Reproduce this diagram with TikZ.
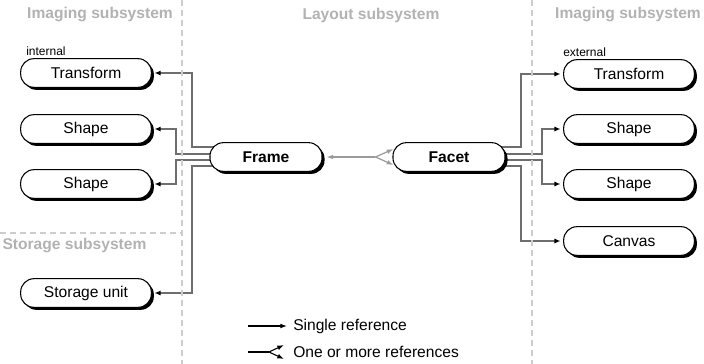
\documentclass[tikz,border=0pt]{standalone}
\usepackage{fontspec}
\setmainfont{Liberation Sans}
\usetikzlibrary{calc,arrows.meta,backgrounds,shadows}
\definecolor{subsysgray}{RGB}{178,178,178}
\definecolor{dashgray}{RGB}{205,205,205}
\definecolor{linkgray}{RGB}{110,110,110}
\definecolor{refgray}{RGB}{155,155,155}

\tikzset{
  objbox/.style = {draw, line width=0.8pt, fill=white, rounded corners=10pt,
    minimum height=21.5pt, inner sep=0pt, font=\fontsize{11.7}{14}\selectfont,
    drop shadow={shadow xshift=1.9pt, shadow yshift=-1.9pt, fill=black, opacity=1}},
  sidebox/.style = {objbox, minimum width=98pt},
  midbox/.style = {objbox, minimum width=84pt, font=\fontsize{11.7}{14}\selectfont\bfseries},
  subsys/.style = {text=subsysgray, inner sep=0pt, font=\fontsize{11.7}{14}\selectfont\bfseries},
  smalltag/.style = {anchor=west, inner sep=0pt, font=\fontsize{9}{10}\selectfont},
  legendtext/.style = {anchor=west, inner sep=0pt, font=\fontsize{11.7}{14}\selectfont},
  link/.style = {linkgray, line width=1.3pt, -{Latex[length=4.5pt,width=3.8pt,color=black]}, shorten >=2pt},
  border/.style = {dashgray, line width=0.8pt, dash pattern=on 4.5pt off 3pt},
}

\begin{document}
\begin{tikzpicture}[x=0.75pt, y=-0.75pt]
        \useasboundingbox (0,0) rectangle (704,364);
        
        % borders
        \path[draw, border](182,0) to (182,364);
        \path[draw, border](532,0) to (532,364);
        \path[draw, border](0,233) to (182,233);
        % subsystem titles
        \node[subsys] (imgleft) at (100,15) {Imaging subsystem};
        \node[subsys] (layout) at (371,15) {Layout subsystem};
        \node[subsys] (imgright) at (628,15) {Imaging subsystem};
        \node[subsys] (storagesys) at (74.5,245) {Storage subsystem};
        
        % left objects
        \node[smalltag] (internal) at (26,51) {internal};
        \node[sidebox] (ltransform) at (86,73) {Transform};
        \node[sidebox] (lshapea) at (86,129) {Shape};
        \node[sidebox] (lshapeb) at (86,184) {Shape};
        \node[sidebox] (storage) at (86,293) {Storage unit};
        % middle objects
        \node[midbox] (frame) at (266,157) {Frame};
        \node[midbox] (facet) at (449,157) {Facet};
        % right objects
        \node[smalltag] (external) at (563,52) {external};
        \node[sidebox] (rtransform) at (629,74) {Transform};
        \node[sidebox] (rshapea) at (629,129) {Shape};
        \node[sidebox] (rshapeb) at (629,184) {Shape};
        \node[sidebox] (canvas) at (629,241) {Canvas};
        
        \coordinate(lbendout) at (192,0);
        \coordinate(lbendin) at (176,0);
        \coordinate(rbendout) at (521,0);
        \coordinate(rbendin) at (542,0);
        \coordinate(fork) at ($(facet.west)+(-17,0)$);
        
        \begin{scope}[on background layer]
        % frame links
        \path[draw, link]($(frame.west)+(14,-10)$) -| (lbendout |- ltransform.east) to (ltransform.east);
        \path[draw, link]($(frame.west)+(14,-3)$) -| (lbendin |- lshapea.east) to (lshapea.east);
        \path[draw, link]($(frame.west)+(14,3)$) -| (lbendin |- lshapeb.east) to (lshapeb.east);
        \path[draw, link]($(frame.west)+(14,9)$) -| (lbendout |- storage.east) to (storage.east);
        % facet links
        \path[draw, link]($(facet.east)+(-14,-10)$) -| (rbendout |- rtransform.west) to (rtransform.west);
        \path[draw, link]($(facet.east)+(-14,-3)$) -| (rbendin |- rshapea.west) to (rshapea.west);
        \path[draw, link]($(facet.east)+(-14,3)$) -| (rbendin |- rshapeb.west) to (rshapeb.west);
        \path[draw, link]($(facet.east)+(-14,9)$) -| (rbendout |- canvas.west) to (canvas.west);
        \end{scope}
        
        % facet to frame, one or more
        \path[draw, refgray, line width=0.9pt, -{Latex[length=5pt,width=3.6pt]}, shorten >=3pt](fork) to (frame.east);
        \path[draw, refgray, line width=0.9pt, -{Latex[length=5pt,width=3.6pt]}](fork) to ($(facet.west)+(1,-8)$);
        \path[draw, refgray, line width=0.9pt, -{Latex[length=5pt,width=3.6pt]}](fork) to ($(facet.west)+(1,8)$);
        
        % legend
        \node[legendtext] (single) at (293,326) {Single reference};
        \node[legendtext] (multi) at (293,352) {One or more references};
        \coordinate(singlestart) at (248,326);
        \coordinate(multistart) at (248,352);
        \coordinate(multifork) at (269,352);
        \path[draw, line width=0.8pt, -{Latex[length=5pt,width=3.6pt]}](singlestart) to ($(single.west)+(-6,0)$);
        \path[draw, line width=0.8pt](multistart) to (multifork);
        \path[draw, line width=0.8pt, -{Latex[length=5pt,width=3.6pt]}](multifork) to ($(multi.west)+(-9,-7)$);
        \path[draw, line width=0.8pt, -{Latex[length=5pt,width=3.6pt]}](multifork) to ($(multi.west)+(-9,7)$);
\end{tikzpicture}
\end{document}
